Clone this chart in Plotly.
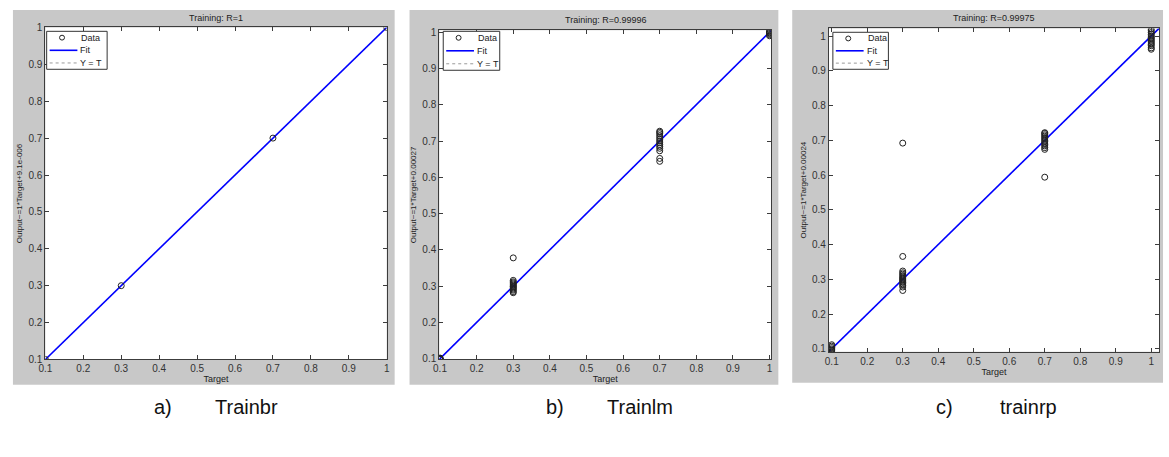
import plotly.graph_objects as go

# ---------------- data ----------------
titles = ["Training: R=1", "Training: R=0.99996", "Training: R=0.99975"]
ylabels = ["Output~=1*Target+9.1e-006", "Output~=1*Target+0.00027", "Output~=1*Target+0.00024"]
captions_letter = ["a)", "b)", "c)"]
captions_name = ["Trainbr", "Trainlm", "trainrp"]
legend_labels = ["Data", "Fit", "Y = T"]
fit_slope = [1.0, 1.0, 1.0]
fit_offset = [9.1e-6, 0.00027, 0.00024]
axis_ranges = [[0.1, 1.0], [0.098, 1.005], [0.092, 1.022]]
tick_vals = [0.1, 0.2, 0.3, 0.4, 0.5, 0.6, 0.7, 0.8, 0.9, 1.0]
tick_text = ["0.1", "0.2", "0.3", "0.4", "0.5", "0.6", "0.7", "0.8", "0.9", "1"]

target_a = [0.1, 0.3, 0.7, 1.0]
output_a = [0.1, 0.3, 0.7, 1.0]

target_b = [0.1] * 7 + [0.3] * 13 + [0.7] * 14 + [1.0] * 7
output_b = [0.098, 0.099, 0.1, 0.1, 0.1, 0.101, 0.102,
            0.282, 0.285, 0.289, 0.292, 0.295, 0.298, 0.3, 0.303, 0.306, 0.309, 0.312, 0.316, 0.378,
            0.644, 0.652, 0.673, 0.68, 0.685, 0.69, 0.695, 0.7, 0.705, 0.71, 0.715, 0.72, 0.724, 0.727,
            0.99, 0.993, 0.996, 0.998, 1.0, 1.002, 1.004]

target_c = [0.1] * 8 + [0.3] * 16 + [0.7] * 14 + [1.0] * 14
output_c = [0.086, 0.09, 0.094, 0.097, 0.1, 0.104, 0.108, 0.112,
            0.268, 0.278, 0.283, 0.287, 0.291, 0.295, 0.298, 0.301, 0.304, 0.307, 0.311, 0.315, 0.319, 0.324, 0.366, 0.692,
            0.594, 0.674, 0.679, 0.684, 0.688, 0.692, 0.696, 0.7, 0.704, 0.708, 0.712, 0.716, 0.72, 0.722,
            0.962, 0.966, 0.972, 0.976, 0.98, 0.984, 0.988, 0.992, 0.996, 1.0, 1.005, 1.01, 1.015, 1.02]

targets = [target_a, target_b, target_c]
outputs = [output_a, output_b, output_c]

# ---------------- layout geometry (window pixels) ----------------
W, H = 1169, 457
panels_px = [(6, 4, 391, 389), (406, 4, 778, 389), (792, 4, 1166, 387)]   # gray backgrounds
plots_px = [(38.7, 22, 383, 363), (436, 25, 771, 363), (829, 23, 1162, 355)]  # axes boxes
legend_px = [(40, 26, 101, 65), (440, 26, 497, 66), (833, 27, 889, 65)]
caption_x = [(157, 242), (553, 638), (946, 1030)]
caption_y = 412


def px_x(x):
    return x / W


def px_y(y):
    return 1 - y / H


fig = go.Figure()
GRAY = "#c8c8c8"
AX = "#3c3c3c"
FONT = "Liberation Sans, Arial, sans-serif"

shapes = []
annotations = []
for i in range(3):
    x0, y0, x1, y1 = panels_px[i]
    shapes.append(dict(type="rect", xref="paper", yref="paper", layer="below",
                       x0=px_x(x0), x1=px_x(x1), y0=px_y(y1), y1=px_y(y0),
                       fillcolor=GRAY, line=dict(width=0)))
    px0, py0, px1, py1 = plots_px[i]
    shapes.append(dict(type="rect", xref="paper", yref="paper", layer="below",
                       x0=px_x(px0), x1=px_x(px1), y0=px_y(py1), y1=px_y(py0),
                       fillcolor="white", line=dict(width=0)))

    sfx = "" if i == 0 else str(i + 1)
    xa, ya = "x" + sfx, "y" + sfx
    r = axis_ranges[i]

    # Y = T line
    fig.add_trace(go.Scatter(x=r, y=r, mode="lines", name="Y = T", xaxis=xa, yaxis=ya,
                             showlegend=False, line=dict(color="#9a9a9a", width=1, dash="dot")))
    # Fit line
    fy = [fit_slope[i] * v + fit_offset[i] for v in r]
    fig.add_trace(go.Scatter(x=r, y=fy, mode="lines", name="Fit", xaxis=xa, yaxis=ya,
                             showlegend=False, line=dict(color="#0000ff", width=1.6)))
    # Data
    fig.add_trace(go.Scatter(x=targets[i], y=outputs[i], mode="markers", name="Data",
                             xaxis=xa, yaxis=ya, showlegend=False,
                             marker=dict(symbol="circle-open", size=6, color="#222222",
                                         line=dict(width=1, color="#222222"))))

    axis_common = dict(range=r, tickvals=tick_vals, ticktext=tick_text, ticks="inside",
                       ticklen=4, tickcolor=AX, showline=True, linecolor=AX, linewidth=1,
                       mirror="ticks", showgrid=False, zeroline=False,
                       tickfont=dict(family=FONT, size=10, color="#333333"))
    fig.update_layout(**{
        ("xaxis" + sfx): dict(domain=[px_x(px0), px_x(px1)], anchor=ya,
                              title=dict(text="Target", standoff=2,
                                         font=dict(family=FONT, size=9, color="#222222")),
                              **axis_common),
        ("yaxis" + sfx): dict(domain=[px_y(py1), px_y(py0)], anchor=xa,
                              title=dict(text=ylabels[i], standoff=4,
                                         font=dict(family=FONT, size=8, color="#222222")),
                              **axis_common),
    })

    # ---- legend box (MATLAB style) ----
    lx0, ly0, lx1, ly1 = legend_px[i]
    shapes.append(dict(type="rect", xref="paper", yref="paper",
                       x0=px_x(lx0), x1=px_x(lx1), y0=px_y(ly1), y1=px_y(ly0),
                       fillcolor="white", line=dict(color="#333333", width=1)))
    row_h = (ly1 - ly0) / 3.0
    for k in range(3):
        cy = ly0 + row_h * (k + 0.5)
        if k == 0:
            shapes.append(dict(type="circle", xref="paper", yref="paper",
                               x0=px_x(lx0 + 13), x1=px_x(lx0 + 18),
                               y0=px_y(cy + 2.5), y1=px_y(cy - 2.5),
                               line=dict(color="#222222", width=1)))
            tx = lx0 + 33
        elif k == 1:
            shapes.append(dict(type="line", xref="paper", yref="paper",
                               x0=px_x(lx0 + 3), x1=px_x(lx0 + 31), y0=px_y(cy), y1=px_y(cy),
                               line=dict(color="#0000ff", width=1.6)))
            tx = lx0 + 32
        else:
            shapes.append(dict(type="line", xref="paper", yref="paper",
                               x0=px_x(lx0 + 3), x1=px_x(lx0 + 31), y0=px_y(cy), y1=px_y(cy),
                               line=dict(color="#9a9a9a", width=1, dash="dot")))
            tx = lx0 + 32
        annotations.append(dict(text=legend_labels[k], xref="paper", yref="paper",
                                x=px_x(tx), y=px_y(cy), xanchor="left", yanchor="middle",
                                showarrow=False,
                                font=dict(family=FONT, size=9, color="#222222")))

    annotations.append(dict(text=titles[i], xref="paper", yref="paper",
                            x=(px_x(px0) + px_x(px1)) / 2, y=px_y(py0 - 3),
                            xanchor="center", yanchor="bottom", showarrow=False,
                            font=dict(family=FONT, size=9, color="#222222")))
    annotations.append(dict(text=captions_letter[i], xref="paper", yref="paper",
                            x=px_x(caption_x[i][0]), y=px_y(caption_y), xanchor="center",
                            yanchor="middle", showarrow=False,
                            font=dict(family=FONT, size=20, color="#111111")))
    annotations.append(dict(text=captions_name[i], xref="paper", yref="paper",
                            x=px_x(caption_x[i][1]), y=px_y(caption_y), xanchor="center",
                            yanchor="middle", showarrow=False,
                            font=dict(family=FONT, size=20, color="#111111")))

fig.update_layout(width=W, height=H, margin=dict(l=0, r=0, t=0, b=0),
                  paper_bgcolor="white", plot_bgcolor="rgba(0,0,0,0)",
                  shapes=shapes, annotations=annotations, showlegend=False)

fig.write_html("out.html", config={"displayModeBar": False},
               post_script="document.body.style.margin='0';document.body.style.overflow='hidden';")
